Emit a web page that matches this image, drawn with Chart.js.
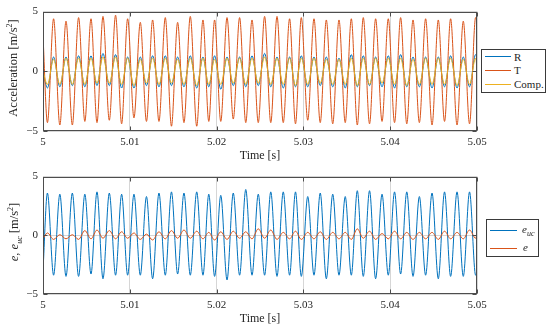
<!DOCTYPE html>
<html>
<head>
<meta charset="utf-8">
<script src="https://cdn.jsdelivr.net/npm/chart.js@4"></script>
<style>
  body { margin: 0; background: #fff; }
  #kap { position: relative; width: 550px; height: 331px; font-family: "Liberation Serif", serif; color: #262626; }
  canvas { position: absolute; left: 0; }
  .ybaslik { position: absolute; white-space: nowrap; font-size: 12.5px; line-height: 14px; transform: translate(-50%, -50%) rotate(-90deg); }
  .ybaslik sup, .ybaslik sub { font-size: 8px; line-height: 0; }
  .lejant { position: absolute; box-sizing: border-box; border: 1px solid #3a3a3a; background: #fff; font-size: 11px; }
  .cizgi { position: absolute; height: 0; border-top: 1.2px solid; }
  .etiket { position: absolute; line-height: 14px; white-space: nowrap; }
  .etiket sub { font-size: 8px; line-height: 0; }
</style>
</head>
<body>
<div id="kap">
  <canvas id="ust" width="550" height="165" style="top:0"></canvas>
  <canvas id="alt" width="550" height="166" style="top:165px"></canvas>

  <div class="ybaslik" style="left:13px; top:68px">Acceleration [m/s<sup>2</sup>]</div>
  <div class="ybaslik" style="left:14px; top:232px"><i>e</i>, <i>e</i><sub><i>uc</i></sub> [m/s<sup>2</sup>]</div>

  <div class="lejant" style="left:481px; top:49px; width:65px; height:44px">
    <div class="cizgi" style="left:3px; top:6px; width:26px; border-color:#0072BD"></div>
    <div class="etiket" style="left:32px; top:0px">R</div>
    <div class="cizgi" style="left:3px; top:20px; width:26px; border-color:#D95319"></div>
    <div class="etiket" style="left:32px; top:13px">T</div>
    <div class="cizgi" style="left:3px; top:34px; width:26px; border-color:#EDB120"></div>
    <div class="etiket" style="left:32px; top:27px">Comp.</div>
  </div>

  <div class="lejant" style="left:486px; top:219px; width:53px; height:38px">
    <div class="cizgi" style="left:3px; top:10px; width:27px; border-color:#0072BD"></div>
    <div class="etiket" style="left:35px; top:2px"><i>e</i><sub><i>uc</i></sub></div>
    <div class="cizgi" style="left:3px; top:28px; width:27px; border-color:#D95319"></div>
    <div class="etiket" style="left:36px; top:20px"><i>e</i></div>
  </div>
</div>

<script>
// Eksen işaretleri
const xTikler = [5, 5.01, 5.02, 5.03, 5.04, 5.05];
const xEtiketler = ["5", "5.01", "5.02", "5.03", "5.04", "5.05"];
const yTikler = [-5, 0, 5];
const yEtiketler = ["\u22125", "0", "5"];

// T sinyalinin dip (A) ve tepe (B) anları [s]
const zamanA = [5.00051, 5.00194, 5.00338, 5.00482, 5.00622, 5.00764, 5.00906, 5.01048, 5.01192, 5.01336,
  5.01480, 5.01624, 5.01771, 5.01910, 5.02048, 5.02192, 5.02336, 5.02480, 5.02624, 5.02768,
  5.02909, 5.03050, 5.03194, 5.03338, 5.03482, 5.03621, 5.03762, 5.03906, 5.04050, 5.04191,
  5.04336, 5.04482, 5.04626, 5.04770, 5.04914];
const zamanB = [5.00122, 5.00265, 5.00410, 5.00553, 5.00691, 5.00836, 5.00975, 5.01121, 5.01263, 5.01409,
  5.01551, 5.01697, 5.01843, 5.01977, 5.02120, 5.02265, 5.02408, 5.02553, 5.02696, 5.02841,
  5.02976, 5.03122, 5.03264, 5.03410, 5.03552, 5.03690, 5.03832, 5.03978, 5.04120, 5.04263,
  5.04408, 5.04554, 5.04696, 5.04842, 5.04984];

// Üst grafik: ivmeler (A anındaki değer, B anındaki değer, [başlangıç, bitiş])
const T_A = [-4.3, -4.5, -4.5, -4.2, -4.3, -4.1, -4.4, -3.9, -4.2, -4.2, -4.6, -4.3, -4.6, -4.2, -4.2, -4.0, -4.3, -4.3,
  -4.3, -4.3, -4.4, -4.1, -4.3, -4.4, -4.3, -4.5, -4.4, -4.2, -4.3, -4.4, -4.3, -4.5, -4.2, -4.5, -4.4];
const T_B = [4.4, 4.2, 4.5, 4.4, 4.6, 4.7, 4.4, 4.1, 4.3, 4.5, 4.1, 4.6, 4.3, 4.3, 4.5, 4.5, 4.3, 4.6,
  4.6, 4.4, 4.5, 4.4, 4.3, 4.3, 4.4, 4.5, 4.4, 4.4, 4.5, 4.3, 4.4, 4.3, 4.4, 4.2, 4.5];
const T_uclar = [3.0, 4.2];

const R_A = [-1.4, -1.3, -1.2, -1.3, -1.2, -1.2, -1.4, -1.4, -1.2, -1.3, -1.2, -1.3, -1.4, -1.3, -1.5, -1.2, -1.3, -1.2,
  -1.3, -1.4, -1.3, -1.3, -1.2, -1.3, -1.4, -1.3, -1.2, -1.3, -1.4, -1.3, -1.3, -1.4, -1.3, -1.4, -1.3];
const R_B = [1.2, 1.2, 1.3, 1.3, 1.5, 1.4, 1.2, 1.2, 1.3, 1.3, 1.2, 1.3, 1.2, 1.3, 1.2, 1.2, 1.3, 1.5,
  1.2, 1.2, 1.3, 1.2, 1.2, 1.1, 1.4, 1.3, 1.2, 1.3, 1.4, 1.2, 1.2, 1.2, 1.3, 1.2, 1.4];
const R_uclar = [0.0, 1.3];

const K_A = [-1.1, -1.1, -1.1, -1.1, -1.0, -1.0, -1.1, -1.2, -1.0, -1.1, -1.0, -1.1, -1.2, -1.1, -1.1, -1.0, -1.1, -1.0,
  -1.1, -1.1, -1.2, -1.1, -1.0, -1.1, -1.1, -1.2, -1.1, -1.0, -1.1, -1.2, -1.1, -1.1, -1.1, -1.2, -1.1];
const K_B = [1.0, 1.1, 1.1, 1.1, 1.2, 1.2, 1.1, 1.0, 1.1, 1.1, 1.0, 1.1, 1.1, 1.0, 1.1, 1.1, 1.1, 1.2,
  1.1, 1.1, 1.1, 1.1, 1.0, 1.0, 1.1, 1.1, 1.1, 1.1, 1.1, 1.0, 1.1, 1.1, 1.1, 1.0, 1.1];
const K_uclar = [0.0, 0.3];

// Alt grafik: hatalar
const EUC_A = [3.6, 3.5, 3.6, 3.5, 3.7, 3.6, 3.5, 3.5, 3.3, 3.6, 3.7, 3.6,
  3.7, 3.5, 3.4, 3.6, 3.9, 3.5, 3.7, 3.7, 3.7, 3.3, 3.6,
  3.5, 3.3, 3.8, 3.8, 3.5, 3.7, 3.7, 3.3, 3.6, 3.7, 3.7, 3.7];
const EUC_B = [-3.4, -3.5, -3.5, -3.3, -3.7, -3.4, -3.4, -3.4, -3.7, -3.4, -3.3,
  -3.4, -3.4, -3.5, -3.8, -3.4, -3.4, -3.4, -3.5, -3.4, -3.5, -3.4, -3.7,
  -3.4, -3.4, -3.5, -3.7, -3.4, -3.3, -3.5, -3.4, -3.7, -3.5, -3.5, -3.4];
const EUC_uclar = [-3.0, -3.2];

const E_A = [0.20, 0.05, 0.05, 0.40, 0.45, 0.40, 0.30, 0.20, 0.10, 0.30, 0.40, 0.45,
  0.35, 0.25, 0.30, 0.35, 0.30, 0.55, 0.45, 0.25, 0.35, 0.25, 0.30,
  0.25, 0.25, 0.55, 0.35, 0.15, 0.35, 0.25, 0.25, 0.25, 0.35, 0.25, 0.45];
const E_B = [-0.35, -0.30, -0.35, -0.30, -0.25, -0.30, -0.25, -0.35, -0.40, -0.30, -0.25,
  -0.25, -0.30, -0.40, -0.35, -0.25, -0.30, -0.25, -0.35, -0.30, -0.35, -0.30, -0.35,
  -0.30, -0.35, -0.25, -0.35, -0.30, -0.30, -0.35, -0.30, -0.35, -0.30, -0.30, -0.25];
const E_uclar = [-0.3, 0.1];

const MAVI = "#0072BD", TURUNCU = "#D95319", SARI = "#EDB120";
const YAZI = "Liberation Serif";

function seri(a, b, uclar) {
  const noktalar = [{ x: xTikler[0], y: uclar[0] }];
  for (let i = 0; i < zamanA.length; i++) {
    noktalar.push({ x: zamanA[i], y: a[i] }, { x: zamanB[i], y: b[i] });
  }
  noktalar.push({ x: xTikler[xTikler.length - 1], y: uclar[1] });
  return noktalar;
}

function setOlustur(veri, renk, sira) {
  return {
    data: veri, borderColor: renk, borderWidth: 1, pointRadius: 0,
    cubicInterpolationMode: "monotone", order: sira,
  };
}

// Kutu çerçevesi ve içe dönük tik çizgileri (MATLAB görünümü)
const kutu = {
  id: "kutu",
  afterDraw(chart) {
    const { ctx, chartArea: a, scales } = chart;
    const sol = Math.round(a.left) + 0.5, sag = Math.round(a.right) - 0.5;
    const ust = Math.round(a.top) + 0.5, alt = Math.round(a.bottom) - 0.5;
    ctx.save();
    ctx.strokeStyle = "#4d4d4d";
    ctx.lineWidth = 1;
    ctx.strokeRect(sol, ust, sag - sol, alt - ust);
    ctx.beginPath();
    for (const v of xTikler) {
      const x = Math.round(scales.x.getPixelForValue(v)) + 0.5;
      ctx.moveTo(x, ust); ctx.lineTo(x, ust + 4);
      ctx.moveTo(x, alt); ctx.lineTo(x, alt - 4);
    }
    for (const v of yTikler) {
      const y = Math.round(scales.y.getPixelForValue(v)) + 0.5;
      ctx.moveTo(sol, y); ctx.lineTo(sol + 4, y);
      ctx.moveTo(sag, y); ctx.lineTo(sag - 4, y);
    }
    ctx.stroke();
    ctx.restore();
  },
};

function grafik(id, setler, ustBosluk, xYukseklik, baslikBosluk) {
  new Chart(document.getElementById(id), {
    type: "line",
    data: { datasets: setler },
    options: {
      responsive: false,
      animation: false,
      events: [],
      layout: { padding: { left: 0, right: 73, top: ustBosluk, bottom: 0 } },
      plugins: { legend: { display: false }, tooltip: { enabled: false } },
      scales: {
        x: {
          type: "linear", min: xTikler[0], max: xTikler[xTikler.length - 1],
          afterBuildTicks: s => { s.ticks = xTikler.map(v => ({ value: v })); },
          afterFit: s => { s.height = xYukseklik; },
          ticks: { callback: (v, i) => xEtiketler[i], font: { family: YAZI, size: 11 }, color: "#262626", padding: 5, maxRotation: 0, autoSkip: false },
          grid: { color: "#d6d6d6", drawTicks: false },
          border: { display: false },
          title: { display: true, text: "Time [s]", font: { family: YAZI, size: 12 }, color: "#262626", padding: { top: 0, bottom: baslikBosluk } },
        },
        y: {
          type: "linear", min: yTikler[0], max: yTikler[yTikler.length - 1],
          afterBuildTicks: s => { s.ticks = yTikler.map(v => ({ value: v })); },
          afterFit: s => { s.width = 43; },
          ticks: { callback: (v, i) => yEtiketler[i], font: { family: YAZI, size: 11 }, color: "#262626", padding: 5 },
          grid: { color: "#d6d6d6", drawTicks: false },
          border: { display: false },
        },
      },
    },
    plugins: [kutu],
  });
}

grafik("ust", [
  setOlustur(seri(R_A, R_B, R_uclar), MAVI, 3),
  setOlustur(seri(T_A, T_B, T_uclar), TURUNCU, 2),
  setOlustur(seri(K_A, K_B, K_uclar), SARI, 1),
], 9, 34, 2);

grafik("alt", [
  setOlustur(seri(EUC_A, EUC_B, EUC_uclar), MAVI, 2),
  setOlustur(seri(E_A, E_B, E_uclar), TURUNCU, 1),
], 8, 37, 5);
</script>
</body>
</html>
